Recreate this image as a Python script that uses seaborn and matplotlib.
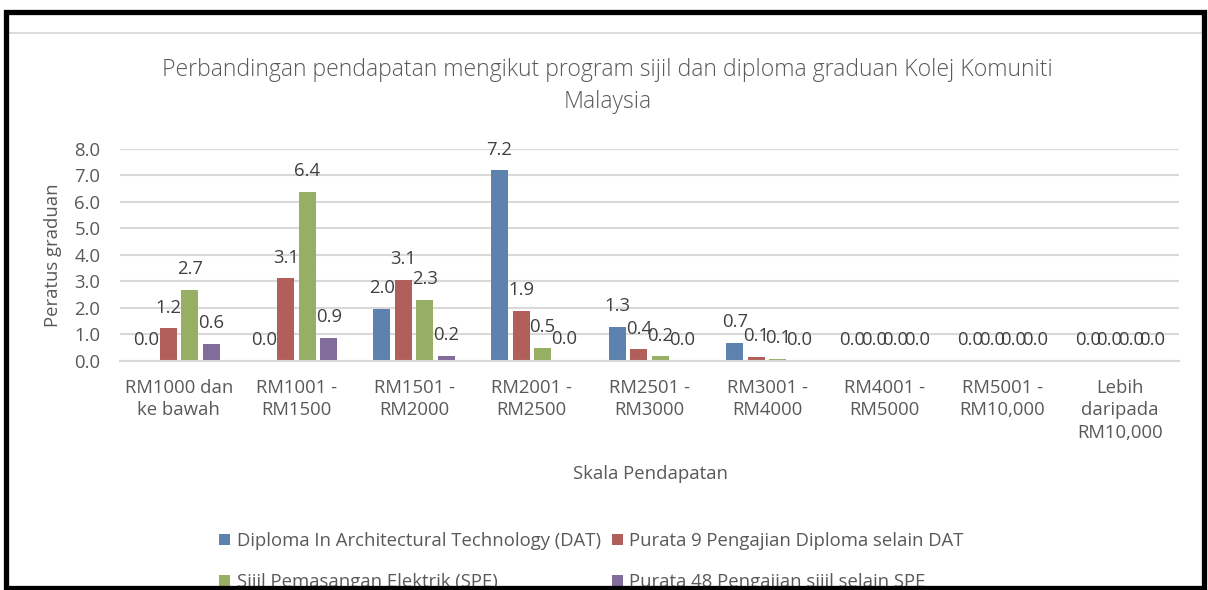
import matplotlib
matplotlib.use("Agg")
import matplotlib.pyplot as plt
from matplotlib.patches import Rectangle
from matplotlib.lines import Line2D
import pandas as pd
import seaborn as sns

# Income bands (x-axis categories)
bands = [
    "RM1000 dan\nke bawah",
    "RM1001 -\nRM1500",
    "RM1501 -\nRM2000",
    "RM2001 -\nRM2500",
    "RM2501 -\nRM3000",
    "RM3001 -\nRM4000",
    "RM4001 -\nRM5000",
    "RM5001 -\nRM10,000",
    "Lebih\ndaripada\nRM10,000",
]

# Series names
programmes = [
    "Diploma In Architectural Technology (DAT)",
    "Purata 9 Pengajian Diploma selain DAT",
    "Sijil Pemasangan Elektrik (SPE)",
    "Purata 48 Pengajian sijil selain SPE",
]

# Percentage of graduates per band
dat = [0.0, 0.0, 1.97, 7.19, 1.28, 0.66, 0.0, 0.0, 0.0]
diploma_lain = [1.22, 3.11, 3.06, 1.88, 0.43, 0.13, 0.0, 0.0, 0.0]
spe = [2.67, 6.39, 2.30, 0.48, 0.16, 0.07, 0.0, 0.01, 0.0]
sijil_lain = [0.63, 0.87, 0.19, 0.02, 0.0, 0.0, 0.0, 0.0, 0.0]

yticks = [0.0, 1.0, 2.0, 3.0, 4.0, 5.0, 6.0, 7.0, 8.0]

colors = ["#4F81BD", "#C0504D", "#9BBB59", "#8064A2"]
TEXT = "#595959"

rows = []
for name, vals in zip(programmes, [dat, diploma_lain, spe, sijil_lain]):
    for band, v in zip(bands, vals):
        rows.append({"Skala": band, "Program": name, "Peratus": v})
df = pd.DataFrame(rows)

sns.set_style("white")
plt.rcParams["font.family"] = ["Open Sans", "DejaVu Sans"]

fig = plt.figure(figsize=(12.08, 5.90), dpi=100)
ax = fig.add_axes([120 / 1208, 1 - 360.7 / 590, 1059 / 1208, 211.7 / 590])

sns.barplot(
    data=df, x="Skala", y="Peratus", hue="Program",
    order=bands, hue_order=programmes, palette=colors,
    width=0.732, gap=0.21, linewidth=0, ax=ax, legend=True,
)

for cont in ax.containers:
    ax.bar_label(cont, fmt="%.1f", padding=8.5, fontsize=13.3, color="#404040")

ax.set_ylim(0, 8)
ax.set_yticks(yticks)
ax.set_yticklabels([f"{t:.1f}" for t in yticks])
ax.set_xlim(-0.5, len(bands) - 0.5)
ax.yaxis.grid(True, color="#D9D9D9", linewidth=1.5)
ax.set_axisbelow(True)
for side in ["top", "right", "left"]:
    ax.spines[side].set_visible(False)
ax.spines["bottom"].set_color("#D9D9D9")
ax.spines["bottom"].set_linewidth(1.5)

ax.tick_params(axis="y", length=0, pad=14, labelsize=13.3, labelcolor=TEXT)
ax.tick_params(axis="x", length=0, pad=13, labelsize=13.3, labelcolor=TEXT)
for lbl in ax.get_xticklabels():
    lbl.set_linespacing(1.32)

ax.set_xlabel("Skala Pendapatan", fontsize=13.3, color=TEXT, va="center")
ax.xaxis.set_label_coords(0.5005, -0.535)
ax.set_ylabel("Peratus graduan", fontsize=13.3, color=TEXT, va="center")
ax.yaxis.set_label_coords(-0.0633, 0.5)

fig.text(
    607.5 / 1208, 1 - 86 / 590,
    "Perbandingan pendapatan mengikut program sijil dan diploma graduan Kolej Komuniti\nMalaysia",
    ha="center", va="center", fontsize=16.6, fontweight="light",
    color=TEXT, linespacing=1.45,
)

# legend entries laid out row by row: DAT | Purata 9, then SPE | Purata 48
handles, labels = ax.get_legend_handles_labels()
ax.get_legend().remove()
order = [0, 2, 1, 3]
fig.legend(
    [handles[i] for i in order], [labels[i] for i in order],
    ncol=2, loc="upper left",
    bbox_to_anchor=(219 / 1208, 1 - 532 / 590),
    frameon=False, fontsize=13.3, labelcolor=TEXT,
    handlelength=0.6, handleheight=0.6, handletextpad=0.35,
    columnspacing=0.6, labelspacing=1.25, borderpad=0, borderaxespad=0,
)

# thin rule under the top edge and the outer black frame
fig.add_artist(Line2D([9 / 1208, 1201 / 1208], [1 - 32.5 / 590] * 2,
                      transform=fig.transFigure, color="#D9D9D9", lw=1.3, zorder=5))
fig.add_artist(Rectangle((6 / 1208, 1 - 588 / 590), 1198 / 1208, 576 / 590,
                         transform=fig.transFigure, fill=False,
                         edgecolor="black", lw=3.8, zorder=10))

fig.savefig("out.png", dpi=100, facecolor="white")
